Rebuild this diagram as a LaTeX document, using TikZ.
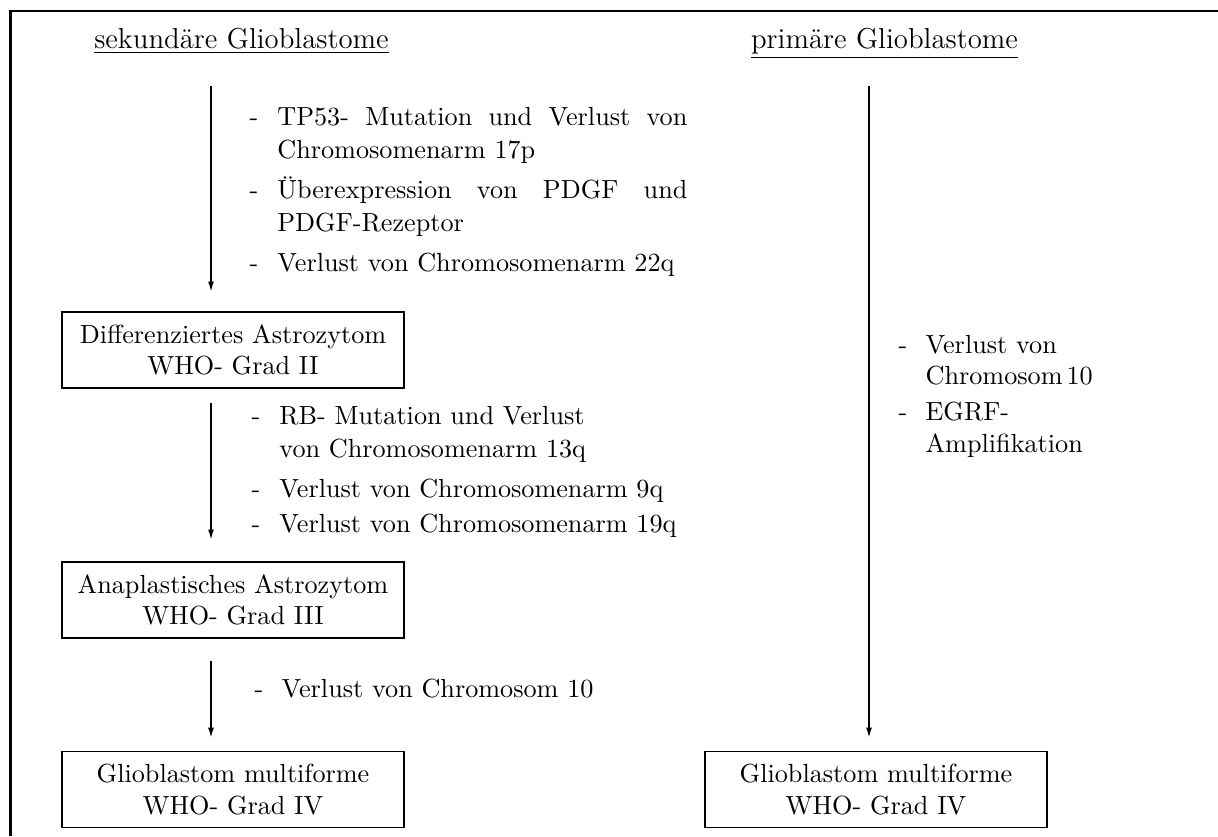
\documentclass[tikz,border=0pt]{standalone}
\usetikzlibrary{arrows.meta}
\begin{document}
\begin{tikzpicture}[x=0.3817pt,y=-0.3817pt,
  frame/.style={line width=1pt},
  box/.style={draw, line width=0.6pt, minimum width=130.5pt, minimum height=29pt,
    align=center, inner sep=0pt, font=\fontsize{10}{12}\selectfont},
  flow/.style={line width=0.65pt, -{Latex[length=4pt,width=2.3pt]}},
  hdr/.style={anchor=base, inner sep=0pt, font=\fontsize{11}{13}\selectfont},
  lst/.style={anchor=base west, inner sep=0pt, font=\fontsize{10}{12.6}\selectfont},
  lstR/.style={anchor=base west, inner sep=0pt, font=\fontsize{10}{12.1}\selectfont}
]
\useasboundingbox (0,0) rectangle (1218,836);
\draw[frame] (10.5,836) -- (10.5,11) -- (1218,11);

% headers
\node[hdr] (hL) at (241.5,48) {\underline{sekundäre Glioblastome}};
\node[hdr] (hR) at (884.5,48) {\underline{primäre Glioblastome}};

% boxes
\node[box] (b1) at (233,350) {Differenziertes Astrozytom\\WHO- Grad II};
\node[box] (b2) at (233,600) {Anaplastisches Astrozytom\\WHO- Grad III};
\node[box] (b3) at (233,789.5) {Glioblastom multiforme\\WHO- Grad IV};
\node[box] (b4) at (876,789.5) {Glioblastom multiforme\\WHO- Grad IV};

% text lists
\node[lst] (t1) at (249,125) {\begin{tabular}[t]{@{}l@{\hspace{7.3pt}}l@{}}
-&\makebox[156.5pt][s]{TP53- Mutation und Verlust von}\\
 &Chromosomenarm 17p\\[2.7pt]
-&\makebox[156.5pt][s]{Überexpression von PDGF und}\\
 &PDGF-Rezeptor\\[2.7pt]
-&Verlust von Chromosomenarm 22q
\end{tabular}};
\node[lst] (t2) at (251,424) {\begin{tabular}[t]{@{}l@{\hspace{7.3pt}}l@{}}
-&RB- Mutation und Verlust\\
 &von Chromosomenarm 13q\\[2.7pt]
-&Verlust von Chromosomenarm 9q\\[1pt]
-&Verlust von Chromosomenarm 19q
\end{tabular}};
\node[lst] (t3) at (254,697) {\begin{tabular}[t]{@{}l@{\hspace{7pt}}l@{}}
-&Verlust von Chromosom 10
\end{tabular}};
\node[lstR] (t4) at (898,353) {\begin{tabular}[t]{@{}l@{\hspace{7pt}}l@{}}
-&Verlust von\\
 &Chromosom\hspace{0.15em}10\\[1.5pt]
-&EGRF-\\
 &Amplifikation
\end{tabular}};

% arrow coordinates
\coordinate (a1s) at (211,86);
\coordinate (a1e) at (211,292);
\coordinate (a2s) at (211,403);
\coordinate (a2e) at (211,540);
\coordinate (a3s) at (211,661);
\coordinate (a3e) at (211,738);
\coordinate (aRs) at (869,86);
\coordinate (aRe) at (869,738);

\draw[flow] (a1s) -- (a1e);
\draw[flow] (a2s) -- (a2e);
\draw[flow] (a3s) -- (a3e);
\draw[flow] (aRs) -- (aRe);
\end{tikzpicture}
\end{document}
